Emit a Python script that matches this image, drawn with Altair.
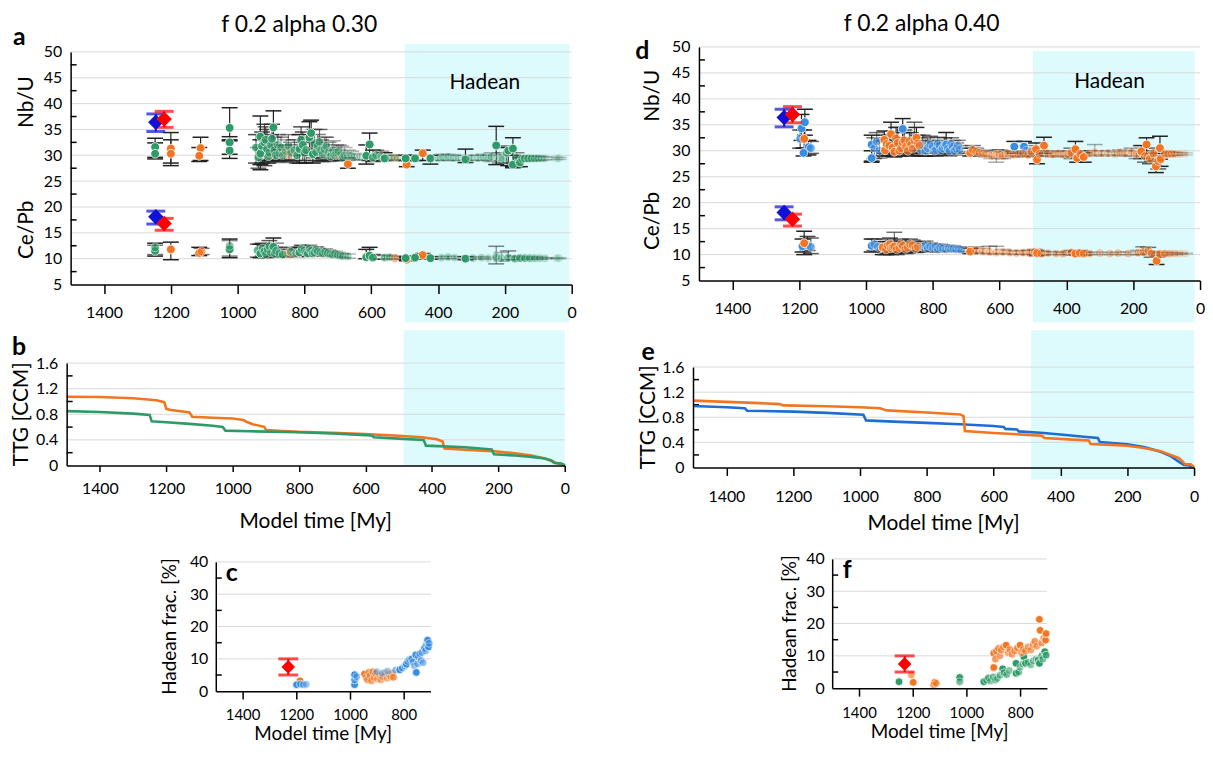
import altair as alt
import pandas as pd

FONT = "Lato"
C_GREEN = "#2E9A68"
C_ORANGE = "#F27522"
C_BLUE = "#3A8EE2"
C_BLUE_LINE = "#1F6CD2"
C_RED = "#FF0000"
C_NAVY = "#1010D6"
C_BAND = "#DDFBFD"
C_GRID = "#D9D9D9"
C_ERR = "#222222"

# ---------------- data ----------------
# observational constraints: (time, value, low, high, id)
ref_nb = [(1245, 36.4, 34.6, 38.0, "ref_blue"), (1220, 37.0, 35.4, 38.5, "ref_red")]
ref_ce = [(1245, 18.1, 16.7, 19.2, "ref_blue"), (1220, 16.8, 15.5, 17.8, "ref_red")]
ref_hadean = [(1230, 7.5, 5.0, 10.0, "ref_red")]

# panel a (alpha 0.30): (time, value, low, high, relative mass)
a_green_nb = [
    (1247, 31.6, 29.6, 33.3, 1.0), (1247, 30.3, 29.3, 32.4, 1.0),
    (1024, 35.3, 33.0, 39.2, 1.0), (1024, 32.5, 30.2, 33.6, 1.0), (1024, 30.9, 29.4, 32.8, 1.0),
    (945, 31.5, 28.5, 34.0, 0.8), (938, 29.6, 27.5, 31.5, 0.7),
    (932, 33.6, 28.2, 37.6, 1.0), (932, 30.3, 27.2, 33.0, 1.0), (927, 31.8, 28.5, 34.5, 0.8),
    (920, 32.5, 28.0, 36.0, 0.8), (916, 33.0, 29.0, 35.5, 0.7), (912, 31.2, 28.5, 35.0, 0.7),
    (908, 29.8, 28.5, 31.5, 0.7), (905, 30.5, 29.0, 32.5, 0.6), (900, 32.0, 29.0, 34.0, 0.7),
    (897, 33.2, 30.0, 36.0, 0.8), (893, 35.4, 31.0, 38.6, 1.0), (890, 31.0, 29.0, 33.5, 0.6),
    (886, 30.0, 28.8, 31.8, 0.6), (880, 32.0, 29.2, 34.0, 0.5), (875, 30.4, 28.8, 32.0, 0.4),
    (870, 31.5, 29.0, 33.5, 0.5), (865, 30.0, 28.6, 32.0, 0.4), (855, 30.8, 28.8, 33.0, 0.35),
    (848, 31.8, 29.2, 34.0, 0.5), (840, 30.5, 28.8, 32.5, 0.5), (830, 31.0, 29.0, 33.0, 0.6),
    (822, 30.0, 28.5, 32.0, 0.7), (815, 31.2, 28.5, 34.0, 1.0), (810, 33.0, 30.0, 35.5, 0.8),
    (805, 32.0, 29.0, 34.5, 0.8), (800, 30.5, 28.5, 32.5, 0.7), (795, 31.0, 28.6, 33.5, 0.7),
    (785, 33.4, 30.0, 36.5, 1.0), (780, 34.3, 30.5, 36.8, 1.0), (775, 30.2, 28.5, 32.5, 1.0),
    (770, 32.2, 29.5, 35.0, 0.6), (765, 30.6, 29.0, 32.5, 0.6), (760, 31.8, 29.0, 34.0, 0.5),
    (755, 32.6, 29.5, 35.0, 0.6), (750, 31.0, 28.8, 33.0, 0.5), (745, 30.2, 28.8, 32.0, 0.5),
    (740, 31.2, 29.0, 33.5, 0.4), (735, 31.8, 29.2, 33.5, 0.5), (728, 30.6, 28.8, 32.5, 0.4),
    (722, 29.8, 29.0, 31.0, 0.5), (715, 31.0, 29.0, 32.8, 0.35), (710, 30.0, 29.0, 31.5, 0.4),
    (705, 30.5, 29.0, 32.0, 0.35), (698, 30.8, 29.2, 32.0, 0.4), (690, 30.2, 29.0, 31.8, 0.3),
    (685, 29.6, 29.0, 30.5, 0.35), (680, 30.0, 29.0, 31.5, 0.25), (670, 29.8, 29.0, 31.0, 0.25),
    (660, 29.9, 29.2, 30.8, 0.3), (650, 29.7, 29.1, 30.4, 0.2), (635, 29.6, 29.1, 30.2, 0.2),
    (615, 29.9, 28.3, 32.0, 1.0), (605, 32.1, 29.0, 34.3, 1.0), (595, 29.6, 28.8, 31.0, 0.8),
    (585, 30.0, 29.0, 31.0, 0.5), (570, 29.7, 29.0, 30.8, 0.4), (560, 29.4, 29.0, 30.5, 1.0),
    (540, 29.5, 29.1, 30.0, 0.3), (520, 29.5, 29.1, 30.0, 0.2), (497, 29.4, 29.0, 30.0, 1.0),
    (469, 29.4, 29.0, 30.0, 1.0), (423, 29.4, 28.3, 30.0, 1.0), (400, 29.5, 29.0, 30.0, 0.25),
    (385, 29.6, 29.0, 30.2, 0.25), (370, 29.7, 29.0, 30.2, 0.25), (355, 29.5, 29.0, 30.0, 0.2),
    (340, 29.6, 29.0, 30.0, 0.2), (318, 29.2, 28.6, 31.2, 1.0), (300, 29.5, 29.0, 30.0, 0.25),
    (280, 29.5, 29.0, 30.0, 0.2), (265, 29.6, 29.0, 30.2, 0.25), (250, 29.4, 29.0, 30.0, 0.25),
    (240, 29.8, 28.8, 30.5, 0.3), (226, 31.9, 28.2, 35.6, 1.0), (215, 29.5, 28.5, 30.5, 0.3),
    (205, 29.3, 28.5, 30.2, 0.3), (195, 30.5, 28.5, 31.8, 0.6), (190, 30.9, 28.0, 31.5, 1.0),
    (176, 31.3, 27.8, 33.4, 1.0), (176, 28.2, 27.6, 30.0, 1.0), (165, 29.5, 27.8, 30.5, 0.5),
    (155, 28.6, 27.8, 29.5, 1.0), (148, 29.3, 28.8, 29.8, 0.5), (140, 29.4, 29.0, 29.8, 0.6),
    (130, 29.4, 29.0, 29.8, 0.6), (120, 29.4, 29.0, 29.8, 0.5), (110, 29.4, 29.0, 29.8, 0.4),
    (100, 29.4, 29.0, 29.8, 0.3), (90, 29.4, 29.1, 29.7, 0.2), (80, 29.4, 29.1, 29.7, 0.15),
    (45, 29.4, 29.2, 29.6, 0.1), (38, 29.4, 29.2, 29.6, 0.1),
]
a_orange_nb = [
    (1200, 31.3, 28.0, 34.4, 1.0), (1200, 30.3, 28.5, 33.0, 1.0), (1111, 31.4, 29.0, 33.5, 1.0),
    (1115, 29.9, 28.8, 31.5, 1.0), (905, 30.0, 28.8, 31.0, 0.6), (860, 30.5, 29.0, 32.0, 0.5),
    (845, 30.2, 29.0, 31.5, 0.5), (700, 30.0, 29.0, 31.0, 0.4), (670, 28.3, 27.5, 29.5, 1.0),
    (530, 29.5, 29.0, 30.0, 0.4), (494, 28.2, 27.8, 29.0, 1.0), (446, 30.4, 29.0, 31.0, 1.0),
]
a_green_ce = [
    (1247, 11.5, 10.5, 13.0, 1.0), (1247, 12.2, 10.8, 12.6, 0.6), (1024, 11.8, 10.2, 13.8, 1.0),
    (1024, 12.5, 10.5, 13.5, 0.5), (940, 11.6, 10.3, 12.8, 0.7), (932, 11.0, 10.2, 12.8, 1.0),
    (925, 12.0, 10.5, 13.0, 0.7), (920, 11.4, 10.3, 12.5, 0.8), (915, 10.9, 10.2, 12.0, 0.6),
    (910, 11.8, 10.4, 12.9, 0.6), (905, 12.4, 10.8, 13.5, 0.7), (900, 11.2, 10.3, 12.5, 0.6),
    (893, 12.3, 10.8, 14.0, 1.0), (888, 11.0, 10.3, 12.2, 0.6), (885, 11.5, 10.5, 13.0, 0.5),
    (875, 11.0, 10.4, 12.2, 0.5), (865, 10.8, 10.3, 11.8, 0.6), (840, 11.3, 10.5, 12.2, 0.5),
    (825, 11.0, 10.4, 11.9, 0.6), (815, 11.2, 10.5, 12.2, 1.0), (808, 11.8, 10.8, 12.6, 0.7),
    (800, 11.6, 10.6, 12.5, 0.5), (795, 11.2, 10.5, 12.1, 0.6), (790, 11.0, 10.5, 12.0, 0.7),
    (785, 11.9, 10.8, 12.6, 0.6), (780, 11.5, 10.6, 12.3, 0.6), (775, 11.0, 10.5, 11.8, 0.7),
    (770, 11.2, 10.6, 12.0, 0.6), (765, 11.7, 10.8, 12.3, 0.5), (760, 11.4, 10.6, 12.0, 0.5),
    (752, 11.2, 10.6, 11.9, 0.5), (745, 11.0, 10.5, 11.8, 0.45), (738, 11.3, 10.7, 11.9, 0.45),
    (730, 11.1, 10.6, 11.7, 0.4), (722, 10.9, 10.5, 11.5, 0.4), (715, 10.8, 10.4, 11.4, 0.35),
    (708, 11.0, 10.5, 11.4, 0.35), (700, 10.7, 10.3, 11.2, 0.35), (692, 10.6, 10.3, 11.0, 0.3),
    (685, 10.5, 10.2, 11.0, 0.3), (670, 10.4, 10.1, 10.9, 0.25),
    (615, 10.3, 10.0, 11.8, 1.0), (605, 10.6, 10.0, 12.2, 1.0), (595, 10.2, 9.9, 10.8, 0.8),
    (560, 10.2, 9.9, 10.6, 0.5), (545, 10.3, 10.0, 10.7, 0.3), (497, 10.1, 9.9, 10.4, 1.0),
    (469, 10.2, 9.9, 10.5, 1.0), (423, 10.1, 9.9, 10.4, 1.0), (390, 10.2, 10.0, 10.4, 0.25),
    (370, 10.3, 10.0, 10.5, 0.25), (350, 10.2, 10.0, 10.4, 0.2), (318, 10.0, 9.8, 10.4, 1.0),
    (295, 10.1, 9.9, 10.3, 0.25), (270, 10.2, 10.0, 10.4, 0.25), (250, 10.1, 9.9, 10.3, 0.2),
    (226, 10.3, 9.0, 12.4, 0.5), (210, 10.1, 9.5, 11.2, 0.3), (190, 10.2, 9.8, 11.5, 0.5),
    (170, 10.0, 9.8, 10.5, 0.6), (155, 10.1, 9.9, 10.3, 0.6), (140, 10.1, 9.9, 10.3, 0.6),
    (125, 10.1, 9.9, 10.3, 0.5), (110, 10.1, 9.9, 10.3, 0.4), (95, 10.1, 9.9, 10.3, 0.3),
    (80, 10.1, 10.0, 10.2, 0.2), (45, 10.1, 10.0, 10.2, 0.1), (38, 10.1, 10.0, 10.2, 0.1),
]
a_orange_ce = [
    (1200, 11.8, 9.8, 13.2, 1.0), (1115, 11.1, 10.6, 12.2, 1.0), (1108, 11.4, 10.8, 12.0, 0.6),
    (850, 11.0, 10.4, 11.8, 0.5), (820, 10.9, 10.4, 11.6, 0.5), (530, 10.1, 9.9, 10.5, 0.5),
    (494, 9.8, 9.6, 10.2, 1.0), (446, 10.7, 10.2, 11.0, 1.0),
]

# panel d (alpha 0.40)
d_blue_nb = [
    (1193, 34.3, 32.0, 37.0, 1.0), (1183, 35.5, 33.0, 38.0, 1.0), (1197, 32.3, 30.5, 34.0, 0.8),
    (1172, 30.7, 29.2, 32.0, 1.0), (1165, 30.5, 29.5, 31.8, 0.7), (1187, 29.6, 29.0, 30.5, 1.0),
    (983, 31.2, 28.0, 33.0, 1.0), (983, 28.6, 27.8, 30.0, 1.0), (975, 30.5, 28.5, 32.5, 0.6),
    (968, 31.8, 29.0, 33.5, 0.6), (960, 30.0, 28.6, 31.8, 0.5), (890, 34.2, 32.0, 36.2, 1.0),
    (835, 30.2, 29.0, 32.0, 0.6), (830, 31.0, 29.0, 33.0, 0.6), (822, 30.0, 29.0, 31.8, 0.6),
    (815, 30.5, 29.0, 32.5, 0.5), (808, 31.2, 29.5, 32.8, 0.6), (800, 30.8, 29.0, 32.0, 0.5),
    (795, 30.0, 29.0, 31.5, 0.5), (790, 30.2, 29.0, 31.5, 0.5), (785, 31.4, 29.8, 32.6, 0.6),
    (780, 31.0, 29.5, 32.0, 0.5), (775, 30.1, 29.2, 31.2, 0.5), (770, 30.5, 29.2, 31.8, 0.5),
    (765, 31.0, 29.5, 32.5, 0.6), (760, 31.2, 29.5, 33.5, 1.0), (755, 30.4, 29.2, 31.5, 0.6),
    (750, 30.0, 29.0, 31.0, 0.6), (745, 31.3, 29.8, 32.5, 0.6), (740, 30.8, 29.5, 32.0, 0.6),
    (735, 30.0, 29.2, 31.0, 0.5), (730, 30.4, 29.5, 31.5, 0.5), (725, 31.0, 29.8, 32.0, 0.5),
    (720, 30.2, 29.5, 31.0, 0.5), (556, 30.8, 29.5, 31.8, 1.0), (527, 30.8, 29.5, 31.8, 1.0),
    (520, 30.0, 29.2, 31.0, 0.5),
]
d_orange_nb = [
    (1185, 32.3, 30.5, 34.0, 1.0), (945, 32.1, 29.5, 33.8, 1.0), (943, 30.1, 29.0, 32.0, 1.0),
    (938, 31.3, 29.2, 33.0, 0.8), (930, 31.0, 29.0, 33.0, 0.8), (925, 33.2, 31.0, 35.5, 1.0),
    (920, 30.6, 29.0, 32.5, 0.8), (915, 29.8, 28.8, 31.5, 0.9), (910, 32.4, 30.0, 34.5, 0.8),
    (905, 31.5, 29.5, 34.5, 0.8), (900, 30.0, 29.0, 31.5, 0.8), (895, 30.5, 29.0, 32.0, 0.7),
    (890, 31.6, 29.5, 33.5, 0.8), (885, 32.0, 29.5, 34.0, 0.8), (880, 30.8, 29.2, 32.5, 0.7),
    (875, 30.0, 29.0, 31.5, 0.7), (870, 31.8, 29.6, 33.5, 0.7), (865, 31.2, 29.2, 33.5, 0.6),
    (860, 30.4, 29.0, 32.0, 0.6), (855, 32.0, 29.5, 35.5, 0.7), (849, 32.5, 30.0, 34.5, 1.0),
    (845, 31.4, 29.5, 33.0, 0.6), (840, 31.0, 29.0, 32.5, 0.5), (688, 29.6, 29.0, 30.5, 1.0),
    (680, 30.2, 29.4, 31.0, 0.6), (670, 29.8, 29.2, 30.5, 0.5), (660, 29.6, 29.0, 30.2, 0.4),
    (650, 29.5, 29.0, 30.0, 0.35), (640, 29.4, 28.8, 30.0, 0.3), (625, 29.0, 28.5, 29.8, 0.3),
    (610, 29.2, 27.8, 30.2, 0.3), (600, 29.3, 28.5, 30.2, 0.4), (590, 29.0, 28.5, 29.8, 0.35),
    (575, 29.5, 29.0, 30.0, 0.35), (560, 29.2, 28.8, 29.8, 0.3), (545, 29.3, 28.9, 29.8, 0.3),
    (530, 29.5, 29.0, 30.0, 0.4), (515, 29.2, 28.8, 29.8, 0.4), (505, 29.8, 29.0, 30.5, 0.6),
    (491, 30.3, 29.0, 31.5, 1.0), (488, 28.3, 27.5, 29.5, 1.0), (480, 29.4, 29.0, 30.0, 0.5),
    (467, 31.0, 29.5, 32.6, 1.0), (455, 29.5, 29.0, 30.0, 0.4), (440, 29.3, 28.8, 29.8, 0.35),
    (425, 29.5, 29.0, 30.0, 0.3), (410, 29.4, 29.0, 29.9, 0.35), (395, 29.3, 28.8, 30.0, 0.5),
    (385, 29.6, 28.5, 30.5, 0.6), (373, 30.3, 29.0, 31.8, 1.0), (368, 28.6, 27.8, 29.5, 1.0),
    (358, 29.4, 28.8, 30.0, 0.8), (348, 28.8, 27.8, 29.6, 1.0), (330, 29.5, 29.0, 30.0, 0.3),
    (315, 29.7, 29.2, 31.2, 0.3), (295, 29.5, 29.0, 30.0, 0.3), (275, 29.6, 29.2, 30.0, 0.25),
    (255, 29.4, 29.0, 29.8, 0.25), (240, 29.7, 29.2, 30.2, 0.3), (225, 29.5, 29.0, 30.0, 0.3),
    (205, 29.8, 29.0, 30.5, 0.4), (190, 29.3, 28.5, 30.0, 0.4), (176, 29.9, 28.5, 31.0, 1.0),
    (165, 29.0, 27.8, 30.0, 0.6), (160, 31.2, 29.5, 32.5, 1.0), (150, 28.5, 27.5, 29.5, 0.7),
    (140, 29.5, 28.0, 30.5, 0.7), (132, 27.0, 25.8, 28.0, 1.0), (125, 28.0, 26.5, 29.0, 0.7),
    (120, 30.5, 28.4, 32.8, 1.0), (118, 28.4, 27.0, 29.5, 1.0), (105, 29.4, 29.0, 29.8, 0.6),
    (95, 29.4, 29.0, 29.8, 0.5), (85, 29.4, 29.1, 29.7, 0.35), (75, 29.4, 29.1, 29.7, 0.25),
    (60, 29.4, 29.2, 29.6, 0.15), (45, 29.4, 29.2, 29.6, 0.1),
]
d_blue_ce = [
    (1190, 11.6, 10.5, 13.0, 1.0), (1175, 11.8, 10.8, 13.5, 0.8), (1165, 11.5, 10.2, 13.2, 0.7),
    (983, 11.7, 10.5, 13.0, 1.0), (975, 12.0, 10.8, 13.0, 0.6), (965, 11.5, 10.6, 12.5, 0.5),
    (830, 11.5, 10.6, 12.5, 0.6), (822, 11.8, 10.8, 12.6, 0.5), (815, 11.2, 10.5, 12.0, 0.5),
    (808, 11.6, 10.8, 12.3, 0.5), (800, 11.3, 10.6, 12.0, 0.4), (792, 11.5, 10.8, 12.1, 0.45),
    (785, 11.0, 10.5, 11.8, 0.4), (778, 11.4, 10.7, 12.0, 0.45), (770, 11.2, 10.6, 11.8, 0.4),
    (760, 11.0, 10.6, 11.6, 0.35), (752, 11.3, 10.8, 11.8, 0.4), (745, 11.1, 10.6, 11.6, 0.35),
    (738, 11.2, 10.7, 11.7, 0.4), (730, 11.0, 10.6, 11.5, 0.35), (722, 11.1, 10.7, 11.5, 0.35),
    (715, 10.9, 10.5, 11.4, 0.3),
]
d_orange_ce = [
    (1185, 12.2, 10.0, 14.5, 1.0), (950, 11.4, 10.0, 12.5, 1.0), (940, 11.0, 10.0, 12.0, 0.7),
    (935, 11.8, 10.2, 13.0, 0.7), (928, 12.0, 10.5, 13.2, 0.7), (925, 11.2, 10.0, 12.5, 0.7),
    (920, 11.5, 10.2, 12.6, 0.7), (915, 11.6, 10.4, 14.3, 0.6), (908, 11.0, 10.0, 12.0, 0.6),
    (900, 11.3, 10.2, 12.5, 0.6), (895, 12.0, 10.6, 13.0, 0.6), (890, 11.7, 10.4, 12.8, 0.6),
    (882, 11.1, 10.2, 12.2, 0.6), (875, 11.4, 10.3, 12.5, 0.5), (868, 12.0, 10.8, 13.0, 0.6),
    (860, 11.8, 10.5, 12.8, 0.6), (852, 11.2, 10.4, 12.2, 0.6), (845, 11.5, 10.5, 12.5, 0.5),
    (688, 10.6, 10.2, 11.2, 1.0), (670, 10.8, 10.4, 11.5, 0.4),
    (650, 10.6, 10.2, 11.2, 0.35), (630, 10.5, 10.2, 11.6, 0.35), (610, 10.4, 10.1, 11.6, 0.3),
    (590, 10.5, 10.2, 11.0, 0.3), (570, 10.4, 10.1, 10.8, 0.3), (550, 10.3, 10.0, 10.7, 0.3),
    (530, 10.4, 10.1, 10.8, 0.35), (510, 10.3, 10.0, 10.8, 0.4), (495, 10.5, 10.0, 11.0, 0.6),
    (488, 10.3, 9.8, 10.8, 1.0), (475, 10.2, 9.9, 10.6, 0.5), (455, 10.3, 10.0, 10.6, 0.3),
    (430, 10.2, 10.0, 10.5, 0.3), (410, 10.2, 10.0, 10.5, 0.4), (385, 10.4, 10.0, 10.8, 0.6),
    (373, 10.2, 9.9, 10.6, 1.0), (360, 10.3, 10.0, 10.8, 0.8), (348, 10.2, 9.9, 10.5, 0.7),
    (330, 10.2, 10.0, 10.4, 0.3), (300, 10.3, 10.0, 10.5, 0.25), (270, 10.2, 10.0, 10.4, 0.25),
    (245, 10.3, 10.0, 10.5, 0.3), (215, 10.2, 10.0, 10.5, 0.3), (185, 10.4, 10.0, 10.8, 0.4),
    (170, 10.5, 10.0, 11.5, 0.5), (155, 10.8, 10.2, 11.4, 0.6), (145, 10.2, 9.5, 10.6, 0.6),
    (130, 8.8, 8.1, 9.5, 1.0), (120, 10.1, 9.8, 10.4, 0.7), (105, 10.2, 10.0, 10.4, 0.5),
    (90, 10.2, 10.0, 10.4, 0.35), (75, 10.2, 10.0, 10.4, 0.25), (60, 10.2, 10.1, 10.3, 0.15),
    (45, 10.2, 10.1, 10.3, 0.1),
]

# TTG volume curves: (time, TTG [CCM])
b_orange = [(1500, 1.075), (1400, 1.07), (1300, 1.05), (1230, 1.02), (1206, 0.99), (1200, 0.885),
            (1190, 0.87), (1130, 0.83), (1122, 0.76), (1060, 0.745), (1000, 0.735), (968, 0.71),
            (955, 0.675), (940, 0.645), (905, 0.605), (900, 0.555), (850, 0.54), (800, 0.525),
            (700, 0.51), (600, 0.49), (500, 0.465), (430, 0.44), (385, 0.41), (368, 0.375),
            (362, 0.265), (300, 0.245), (220, 0.225), (150, 0.19), (100, 0.155), (60, 0.11),
            (40, 0.07), (20, 0.03), (5, 0.01), (0, 0.0)]
b_green = [(1500, 0.85), (1400, 0.835), (1300, 0.81), (1250, 0.79), (1244, 0.69), (1200, 0.675),
           (1130, 0.65), (1060, 0.62), (1030, 0.60), (1022, 0.545), (950, 0.535), (800, 0.52),
           (700, 0.50), (600, 0.475), (580, 0.465), (575, 0.44), (500, 0.42), (425, 0.40),
           (418, 0.31), (300, 0.285), (220, 0.25), (213, 0.175), (150, 0.155), (100, 0.135),
           (60, 0.11), (40, 0.08), (32, 0.04), (10, 0.03), (2, 0.01), (0, 0.0)]
e_orange = [(1500, 1.065), (1400, 1.045), (1300, 1.025), (1240, 1.01), (1230, 0.99), (1100, 0.975),
            (1000, 0.96), (940, 0.945), (920, 0.91), (800, 0.875), (700, 0.845), (690, 0.82),
            (686, 0.58), (600, 0.55), (500, 0.52), (455, 0.505), (448, 0.47), (350, 0.44),
            (315, 0.43), (310, 0.375), (250, 0.36), (200, 0.345), (150, 0.31), (100, 0.26),
            (70, 0.2), (45, 0.15), (35, 0.1), (28, 0.055), (10, 0.05), (3, 0.02), (0, 0.0)]
e_blue = [(1500, 0.98), (1400, 0.96), (1345, 0.945), (1338, 0.905), (1200, 0.89), (1100, 0.87),
          (990, 0.84), (982, 0.75), (900, 0.73), (800, 0.71), (700, 0.69), (600, 0.66),
          (570, 0.645), (565, 0.615), (530, 0.605), (525, 0.575), (450, 0.55), (400, 0.525),
          (330, 0.49), (288, 0.47), (282, 0.405), (200, 0.37), (150, 0.325), (100, 0.25),
          (70, 0.18), (45, 0.09), (30, 0.04), (15, 0.03), (0, 0.0)]

# Hadean fraction: (time, percent, relative mass)
c_blue = [(1199, 2.0, 1.0), (1185, 2.2, 0.7), (1174, 2.0, 0.6), (1163, 2.1, 0.4),
          (983, 2.0, 1.0), (983, 3.5, 0.8), (983, 5.1, 1.0), (975, 4.5, 0.5),
          (900, 6.0, 0.4), (880, 5.5, 0.4), (860, 6.2, 0.4), (830, 6.5, 0.5), (815, 6.6, 1.0),
          (805, 7.2, 0.6), (795, 7.8, 0.6), (790, 8.3, 1.0), (785, 9.2, 0.5), (778, 9.8, 0.6),
          (770, 10.0, 0.8), (765, 9.0, 0.5), (760, 7.8, 0.5), (755, 11.2, 1.0), (753, 5.8, 1.0),
          (748, 8.5, 0.5), (745, 10.5, 0.5), (740, 11.6, 0.6), (735, 9.5, 0.5), (732, 12.0, 0.5),
          (728, 8.8, 0.5), (722, 13.3, 1.0), (718, 12.5, 0.5), (715, 14.5, 0.6), (711, 15.8, 1.0),
          (708, 13.7, 1.0), (705, 14.8, 0.6)]
c_orange = [(1186, 3.2, 1.0), (946, 5.3, 1.0), (940, 4.2, 0.6), (935, 3.5, 0.6), (930, 5.8, 0.7),
            (925, 4.8, 0.6), (920, 3.2, 0.6), (915, 6.0, 0.7), (910, 4.2, 0.5), (905, 5.5, 0.6),
            (898, 3.8, 0.5), (890, 5.0, 0.5), (885, 3.5, 0.5), (878, 4.5, 0.5), (870, 5.8, 0.5),
            (862, 4.0, 0.5), (855, 5.2, 0.5), (848, 4.5, 0.6), (842, 5.6, 0.6), (838, 4.3, 0.7)]
f_green = [(1251, 2.0, 1.0), (1025, 3.3, 1.0), (1025, 2.0, 0.6), (935, 2.0, 1.0), (925, 2.5, 0.6),
           (918, 3.2, 0.7), (910, 2.2, 0.5), (900, 3.5, 0.6), (892, 2.5, 0.5), (885, 3.0, 0.5),
           (875, 4.0, 0.6), (865, 6.0, 1.0), (860, 4.8, 0.7), (850, 4.2, 0.6), (840, 5.5, 0.5),
           (815, 4.6, 1.0), (815, 7.7, 1.0), (805, 5.0, 0.6), (800, 6.5, 0.5), (790, 7.5, 0.6),
           (786, 9.7, 1.0), (780, 7.7, 1.0), (770, 8.0, 0.5), (760, 7.2, 0.5), (750, 8.5, 0.6),
           (740, 9.0, 0.6), (733, 8.7, 1.0), (728, 7.7, 1.0), (720, 10.0, 0.7), (715, 9.0, 0.6),
           (708, 11.3, 1.0), (703, 10.2, 0.8)]
f_orange = [(1205, 4.1, 0.6), (1198, 1.8, 1.0), (1118, 1.8, 1.0), (1122, 1.0, 0.6), (1112, 1.5, 0.6),
            (898, 6.4, 1.0), (898, 10.8, 1.0), (892, 9.0, 0.7), (888, 11.5, 0.8), (880, 12.3, 0.7),
            (875, 10.0, 0.6), (870, 11.8, 0.7), (862, 12.8, 0.6), (852, 13.3, 1.0), (845, 11.0, 0.6),
            (838, 12.0, 0.7), (830, 10.5, 0.6), (820, 11.5, 0.6), (810, 12.5, 0.7), (800, 13.3, 1.0),
            (795, 11.0, 0.6), (788, 12.0, 0.6), (780, 11.5, 0.6), (770, 12.8, 0.6), (760, 11.8, 0.6),
            (752, 13.5, 0.6), (745, 14.5, 0.7), (738, 13.0, 0.6), (728, 21.3, 1.0), (725, 17.9, 1.0),
            (720, 14.0, 0.7), (712, 15.5, 0.7), (705, 14.9, 1.0), (703, 16.9, 1.0)]

time_ticks = [1400, 1200, 1000, 800, 600, 400, 200, 0]
frac_time_ticks = [1400, 1200, 1000, 800]
ratio_ticks = [5, 10, 15, 20, 25, 30, 35, 40, 45, 50]
ratio_grid = [10, 15, 20, 25, 30, 35, 40, 45, 50]
ratio_minor = [7.5, 12.5, 17.5, 22.5, 27.5, 32.5, 37.5, 42.5, 47.5]
ttg_ticks = [0, 0.4, 0.8, 1.2, 1.6]
ttg_grid = [0.4, 0.8, 1.2, 1.6]
ttg_minor = [0.2, 0.6, 1.0, 1.4]
frac_ticks = [0, 10, 20, 30, 40]
frac_grid = [10, 20, 30, 40]
frac_minor = [5, 15, 25, 35]

COLORS = {"green": C_GREEN, "orange": C_ORANGE, "blue": C_BLUE, "blueline": C_BLUE_LINE,
          "ref_blue": C_NAVY, "ref_red": C_RED}
LINE_WIDTHS = {"green": 2.6, "orange": 2.6, "blueline": 3.6}


# ---------------- helpers ----------------
def pts_frame(*parts):
    rows = []
    for name, lst in parts:
        for r in lst:
            rows.append(dict(t=r[0], v=r[1], lo=r[2], hi=r[3], w=r[4], s=name))
    return pd.DataFrame(rows)


def ref_frame(*lists):
    rows = []
    for lst in lists:
        for r in lst:
            rows.append(dict(t=r[0], v=r[1], lo=r[2], hi=r[3], s=r[4]))
    return pd.DataFrame(rows)


def color_enc():
    return alt.Color("s:N", scale=alt.Scale(domain=list(COLORS.keys()), range=list(COLORS.values())),
                     legend=None)


def ptext(txt, x, y, size, bold=False, angle=0, baseline="middle"):
    return alt.Chart(pd.DataFrame({"txt": [txt]})).mark_text(
        font=FONT, fontSize=size, fontWeight="bold" if bold else "normal", angle=angle,
        baseline=baseline, align="center", color="black"
    ).encode(x=alt.value(x), y=alt.value(y), text="txt:N")


def xaxis(values, fs, tick, pad):
    return alt.Axis(values=values, format="d", title=None, grid=False, labelFontSize=fs,
                    labelFont=FONT, labelColor="black", tickSize=tick, tickColor="black",
                    tickWidth=1.5, domainColor="black", domainWidth=1.5, labelPadding=pad,
                    labelFlush=False, labelOverlap=False, zindex=2)


def yaxis(values, fs, pad, offset, expr=None):
    kw = dict(values=values, title=None, grid=False, ticks=False, tickSize=0, labelFontSize=fs,
              labelFont=FONT, labelColor="black", labelPadding=pad, domainColor="black",
              domainWidth=1.5, labelOverlap=False, offset=offset, zindex=2)
    if expr:
        kw["labelExpr"] = expr
    return alt.Axis(**kw)


def frame_layers(Y, grid_vals, minor_vals, px, W):
    grid = alt.Chart(pd.DataFrame({"g": grid_vals})).mark_rule(color=C_GRID, strokeWidth=1).encode(
        y=Y("g"), x=alt.value(px), x2=alt.value(px + W))
    minor = alt.Chart(pd.DataFrame({"m": minor_vals})).mark_rule(color="black", strokeWidth=1.5).encode(
        y=Y("m"), x=alt.value(px), x2=alt.value(px + 6))
    return [grid, minor]


def ratio_panel(pts, refs, px, py, W, H, band_t, band_y, had, title, title_xy, letter, letter_xy,
                lab_x, nb_v, ce_v, anchor=None):
    xs = alt.Scale(domain=[1500, 0], range=[px, px + W], nice=False, zero=False)
    ys = alt.Scale(domain=[5, 50], range=[py + H, py], nice=False, zero=False)
    xa = xaxis(time_ticks, 16, 9, 11)
    ya = yaxis(ratio_ticks, 16, 9, -px)
    X = lambda f: alt.X(f"{f}:Q", scale=xs, axis=xa)
    Y = lambda f: alt.Y(f"{f}:Q", scale=ys, axis=ya)
    EO = alt.Opacity("w:Q", scale=alt.Scale(domain=[0, 1], range=[0.12, 1.0]), legend=None)
    PO = alt.Opacity("w:Q", scale=alt.Scale(domain=[0, 1], range=[0.12, 1.0]), legend=None)

    band = alt.Chart(pd.DataFrame({"t": [band_t[0]], "t2": [band_t[1]]})).mark_rect(
        color=C_BAND).encode(x=X("t"), x2="t2", y=alt.value(band_y[0]), y2=alt.value(band_y[1]))
    base = alt.Chart(pts)
    rules = base.mark_rule(color=C_ERR, strokeWidth=1.2).encode(x=X("t"), y=Y("lo"), y2="hi", opacity=EO)
    cap_lo = base.mark_tick(color=C_ERR, orient="horizontal", size=16, thickness=1.5).encode(
        x=X("t"), y=Y("lo"), opacity=EO)
    cap_hi = base.mark_tick(color=C_ERR, orient="horizontal", size=16, thickness=1.5).encode(
        x=X("t"), y=Y("hi"), opacity=EO)
    dots = base.mark_circle(size=78, stroke="white", strokeWidth=0.8).encode(
        x=X("t"), y=Y("v"), color=color_enc(), opacity=PO)
    rb = alt.Chart(refs)
    r_rule = rb.mark_rule(strokeWidth=2).encode(x=X("t"), y=Y("lo"), y2="hi", color=color_enc())
    r_lo = rb.mark_tick(orient="horizontal", size=19, thickness=3).encode(x=X("t"), y=Y("lo"), color=color_enc())
    r_hi = rb.mark_tick(orient="horizontal", size=19, thickness=3).encode(x=X("t"), y=Y("hi"), color=color_enc())
    r_dia = rb.mark_point(shape="diamond", filled=True, size=240, opacity=1).encode(
        x=X("t"), y=Y("v"), color=color_enc())
    hadean = alt.Chart(pd.DataFrame({"t": [had[0]], "v": [had[1]], "txt": ["Hadean"]})).mark_text(
        font=FONT, fontSize=21, color="black").encode(x=X("t"), y=Y("v"), text="txt:N")
    nb = alt.Chart(pd.DataFrame({"v": [nb_v], "txt": ["Nb/U"]})).mark_text(
        font=FONT, fontSize=21, angle=270, color="black").encode(x=alt.value(lab_x), y=Y("v"), text="txt:N")
    ce = alt.Chart(pd.DataFrame({"v": [ce_v], "txt": ["Ce/Pb"]})).mark_text(
        font=FONT, fontSize=21, angle=270, color="black").encode(x=alt.value(lab_x), y=Y("v"), text="txt:N")
    layers = [band] + frame_layers(Y, ratio_grid, ratio_minor, px, W) + [
        rules, cap_lo, cap_hi, dots, r_rule, r_lo, r_hi, r_dia, hadean, nb, ce,
        ptext(title, title_xy[0], title_xy[1], 23),
        ptext(letter, letter_xy[0], letter_xy[1], 25, bold=True, baseline="alphabetic")]
    if anchor:
        layers.append(alt.Chart(pd.DataFrame({"k": [0]})).mark_rect(color="white").encode(
            x=alt.value(anchor[0]), x2=alt.value(anchor[0] + 1),
            y=alt.value(anchor[1]), y2=alt.value(anchor[1] + 1)))
    return alt.layer(*layers).resolve_scale(opacity="independent").properties(
        width=px + W, height=py + H)


def ttg_panel(lines, px, py, W, H, band_t, band_y, letter, letter_xy, ttg_x, title_y, tick, pad):
    xs = alt.Scale(domain=[1500, 0], range=[px, px + W], nice=False, zero=False)
    ys = alt.Scale(domain=[0, 1.6], range=[py + H, py], nice=False, zero=False)
    xa = xaxis(time_ticks, 16, tick, pad)
    ya = yaxis(ttg_ticks, 16, 9, -px, "datum.value == 0 ? '0' : format(datum.value, '.1f')")
    X = lambda f: alt.X(f"{f}:Q", scale=xs, axis=xa)
    Y = lambda f: alt.Y(f"{f}:Q", scale=ys, axis=ya)
    rows = []
    for name, lst in lines:
        for i, (t, v) in enumerate(lst):
            rows.append(dict(t=t, v=v, s=name, i=i))
    df = pd.DataFrame(rows)
    band = alt.Chart(pd.DataFrame({"t": [band_t[0]], "t2": [band_t[1]]})).mark_rect(
        color=C_BAND).encode(x=X("t"), x2="t2", y=alt.value(band_y[0]), y2=alt.value(band_y[1]))
    line = alt.Chart(df).mark_line().encode(
        x=X("t"), y=Y("v"), color=color_enc(), order="i:Q", detail="s:N",
        strokeWidth=alt.StrokeWidth("s:N", scale=alt.Scale(domain=list(LINE_WIDTHS.keys()),
                                                            range=list(LINE_WIDTHS.values())),
                                    legend=None))
    layers = [band] + frame_layers(Y, ttg_grid, ttg_minor, px, W) + [
        line,
        ptext(letter, letter_xy[0], letter_xy[1], 25, bold=True, baseline="alphabetic"),
        ptext("TTG [CCM]", ttg_x, py + H / 2, 21, angle=270),
        ptext("Model time [My]", px + W / 2, title_y, 21)]
    return alt.layer(*layers).properties(width=px + W, height=py + H)


def frac_panel(pts, refs, px, py, W, H, letter, letter_xy, yt_x, title_y, pad):
    xs = alt.Scale(domain=[1500, 700], range=[px, px + W], nice=False, zero=False)
    ys = alt.Scale(domain=[0, 40], range=[py + H, py], nice=False, zero=False)
    xa = xaxis(frac_time_ticks, 15, 8, pad)
    ya = yaxis(frac_ticks, 16, 8, -px)
    X = lambda f: alt.X(f"{f}:Q", scale=xs, axis=xa)
    Y = lambda f: alt.Y(f"{f}:Q", scale=ys, axis=ya)
    rows = []
    for name, lst in pts:
        for (t, v, w) in lst:
            rows.append(dict(t=t, v=v, w=w, s=name))
    df = pd.DataFrame(rows)
    PO = alt.Opacity("w:Q", scale=alt.Scale(domain=[0, 1], range=[0.12, 1.0]), legend=None)
    dots = alt.Chart(df).mark_circle(size=62, stroke="white", strokeWidth=0.8).encode(
        x=X("t"), y=Y("v"), color=color_enc(), opacity=PO)
    rb = alt.Chart(refs)
    r_rule = rb.mark_rule(strokeWidth=2).encode(x=X("t"), y=Y("lo"), y2="hi", color=color_enc())
    r_lo = rb.mark_tick(orient="horizontal", size=20, thickness=3).encode(x=X("t"), y=Y("lo"), color=color_enc())
    r_hi = rb.mark_tick(orient="horizontal", size=20, thickness=3).encode(x=X("t"), y=Y("hi"), color=color_enc())
    r_dia = rb.mark_point(shape="diamond", filled=True, size=190, opacity=1).encode(
        x=X("t"), y=Y("v"), color=color_enc())
    layers = frame_layers(Y, frac_grid, frac_minor, px, W) + [
        dots, r_rule, r_lo, r_hi, r_dia,
        ptext(letter, letter_xy[0], letter_xy[1], 25, bold=True, baseline="alphabetic"),
        ptext("Hadean frac. [%]", yt_x, py + H / 2, 19, angle=270),
        ptext("Model time [My]", px + W / 2, title_y, 19)]
    return alt.layer(*layers).properties(width=px + W, height=py + H)


# ---------------- panels (positions relative to each grid cell) ----------------
refs_ratio = ref_frame(ref_nb, ref_ce)
refs_frac = ref_frame(ref_hadean)

panel_a = ratio_panel(
    pts_frame(("orange", a_orange_nb), ("green", a_green_nb), ("orange", a_orange_ce), ("green", a_green_ce)),
    refs_ratio, 4, 5, 504, 234, (500, 7), (-3, 277), (260, 43.9),
    "f 0.2 alpha 0.30", (234, -22.5), "a", (-47.6, -2), -40, 40.3, 15.6, anchor=(-59, -37))

panel_d = ratio_panel(
    pts_frame(("blue", d_blue_nb), ("orange", d_orange_nb), ("blue", d_blue_ce), ("orange", d_orange_ce)),
    refs_ratio, 6, 0, 504, 235, (500, 16), (4, 277), (271, 43.3),
    "f 0.2 alpha 0.40", (230, -23), "d", (-51, 11.7), -40, 40.6, 16.5)

panel_b = ttg_panel([("orange", b_orange), ("green", b_green)], 0, 0, 501, 103, (485, 0), (-33, 103),
                    "b", (-48, -8), -44.5, 160, 6, 9)
panel_e = ttg_panel([("blueline", e_blue), ("orange", e_orange)], 0, 4, 504, 101, (488, 0), (-33, 117),
                    "e", (-45, -3), -44, 162, 8, 13)

panel_c = frac_panel([("orange", c_orange), ("blue", c_blue)], refs_frac, 150, 16, 216, 130,
                     "c", (166, 35), 104, 189.5, 9)
panel_f = frac_panel([("green", f_green), ("orange", f_orange)], refs_frac, 140, 13, 216, 130,
                     "f", (155, 32), 98, 187, 9)

chart = alt.concat(
    panel_a, panel_d, panel_b, panel_e, panel_c, panel_f,
    columns=2, spacing={"row": 79, "column": 122}, bounds="flush", align="each",
).properties(padding=0).configure_view(stroke=None).configure_axis(labelFont=FONT)

chart.save("out.html", embed_options={"renderer": "svg", "actions": False})
